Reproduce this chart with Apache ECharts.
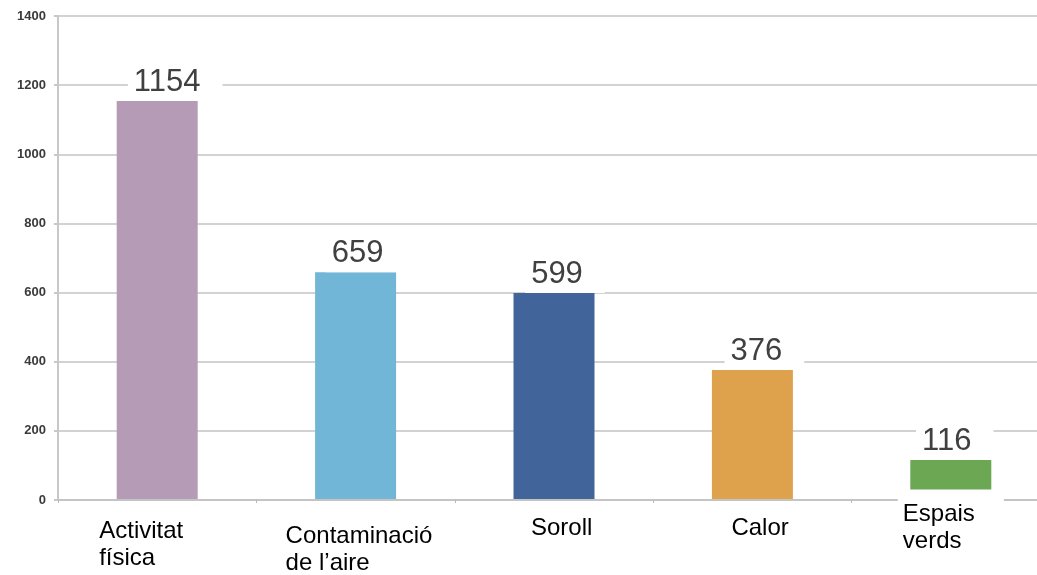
<!DOCTYPE html>
<html>
<head>
<meta charset="utf-8">
<script src="https://cdn.jsdelivr.net/npm/echarts@6/dist/echarts.min.js"></script>
<style>
  html, body { margin: 0; padding: 0; background: #fff; }
  #chart { width: 1037px; height: 575px; }
</style>
</head>
<body>
<div id="chart"></div>
<script>
// Categories, values and y-axis ticks
const categories = ['Activitat\nfísica', 'Contaminació\nde l’aire', 'Soroll', 'Calor', 'Espais\nverds'];
const values = [1154, 659, 599, 376, 116];
const yTicks = [0, 200, 400, 600, 800, 1000, 1200, 1400];

// Bar colours, one per category
const barColors = ['#b59bb6', '#71b5d7', '#41659a', '#dea24c', '#6ca854'];

// Horizontal nudge of each value label (px)
const valueLabelNudge = [18, 10, 11, 12, 4];

// Hand placement of the category labels: left edge relative to the
// category centre (shift), extra drop below the axis, and whether the
// label carries a white backing box.
const catLayout = [
  { shift: -58, drop: 30, w: 200, mask: false },
  { shift: -70, drop: 35, w: 200, mask: false },
  { shift: -23, drop: 27, w: 200, mask: false },
  { shift: -21, drop: 27, w: 200, mask: false },
  { shift: -48, drop: 13, w: 101, mask: true }
];

const FONT = '"Liberation Sans", Arial, sans-serif';
const LINE_H = 27;

const rich = {};
catLayout.forEach((c, i) => {
  const padL = 2 * c.shift + c.w;
  const base = {
    width: c.w,
    align: 'left',
    fontSize: 24,
    color: '#000',
    fontFamily: FONT
  };
  if (c.mask) base.backgroundColor = '#fff';
  // first line: padding pushes the text down, taller line keeps spacing
  rich['f' + i] = Object.assign({}, base, {
    padding: [c.drop, 0, 0, padL],
    lineHeight: LINE_H + c.drop
  });
  rich['s' + i] = Object.assign({}, base, {
    padding: [0, 0, 0, padL],
    lineHeight: LINE_H
  });
});

const chart = echarts.init(document.getElementById('chart'), null, { renderer: 'canvas' });

chart.setOption({
  animation: false,
  backgroundColor: '#fff',
  grid: { left: 58, right: -13, top: 16, bottom: 75, outerBoundsMode: 'none' },
  xAxis: {
    type: 'category',
    data: categories,
    z: 3,
    axisLine: { lineStyle: { color: '#c4c4c4', width: 2 } },
    axisTick: { show: true, length: 3, lineStyle: { color: '#b8b8b8', width: 1 } },
    axisLabel: {
      interval: 0,
      margin: -12,
      formatter: (val, idx) => val.split('\n')
        .map((line, k) => '{' + (k === 0 ? 'f' : 's') + idx + '|' + line + '}')
        .join('\n'),
      rich: rich
    }
  },
  yAxis: {
    type: 'value',
    min: yTicks[0],
    max: yTicks[yTicks.length - 1],
    interval: yTicks[1] - yTicks[0],
    axisLine: { show: true, lineStyle: { color: '#c8c8c8', width: 2 } },
    axisTick: { show: true, length: 4, lineStyle: { color: '#c8c8c8', width: 2 } },
    splitLine: { lineStyle: { color: '#d2d2d2', width: 2 } },
    axisLabel: {
      margin: 12,
      fontSize: 13,
      fontWeight: 'bold',
      color: '#3a3a3a',
      fontFamily: FONT,
      formatter: v => String(v)
    }
  },
  series: [{
    type: 'bar',
    barWidth: 81,
    data: values.map((v, i) => ({
      value: v,
      itemStyle: { color: barColors[i] },
      label: { offset: [valueLabelNudge[i], 0] }
    })),
    label: {
      show: true,
      position: 'top',
      distance: 0,
      fontSize: 31,
      lineHeight: 31,
      color: '#404040',
      fontFamily: FONT,
      backgroundColor: '#fff',
      padding: [0, 22, 3, 6]
    }
  }]
});
</script>
</body>
</html>
